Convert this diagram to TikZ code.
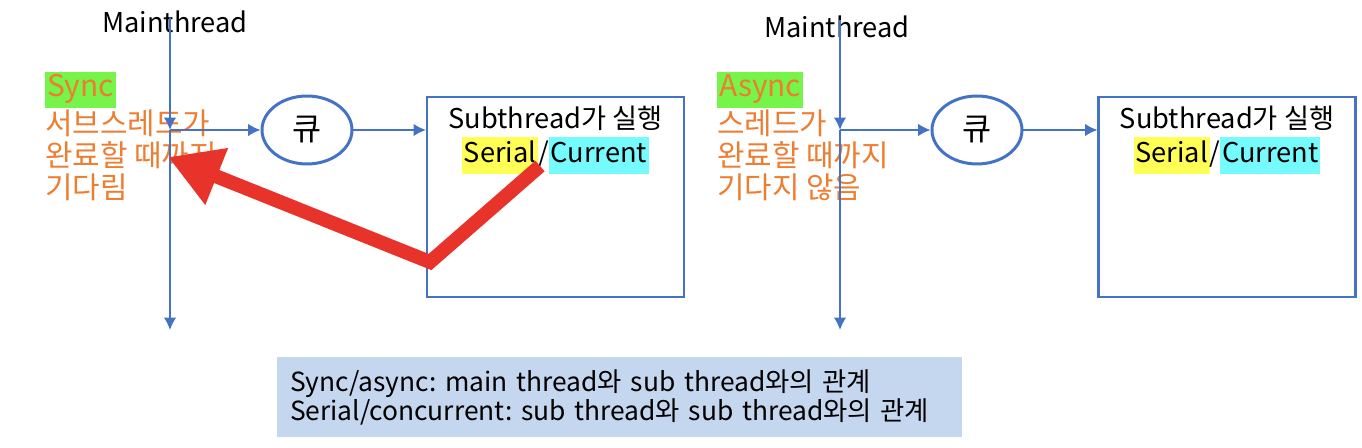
\documentclass[tikz,border=0pt]{standalone}
\usepackage{fontspec}
\setmainfont{Noto Sans CJK KR}
\usetikzlibrary{arrows.meta,positioning,shapes.geometric}
\definecolor{lineblue}{HTML}{4472C4}
\definecolor{noteorange}{HTML}{ED7D31}
\definecolor{hlgreen}{HTML}{77F44A}
\definecolor{hlyellow}{HTML}{FFFF55}
\definecolor{hlcyan}{HTML}{75FBFD}
\definecolor{backred}{HTML}{E8332A}
\definecolor{sumblue}{HTML}{C5D6EF}
\setlength{\fboxsep}{1pt}
\frenchspacing

\begin{document}
\begin{tikzpicture}[>=Latex,x=0.02cm,y=-0.02cm]
  \tikzstyle{flow}=[draw=lineblue,line width=0.8pt,-{Latex[length=7pt,width=7pt]}]
  \tikzstyle{queue}=[ellipse,draw=lineblue,line width=1.7pt,minimum width=1.8cm,minimum height=1.36cm,inner sep=0pt,font=\fontsize{18}{20}\selectfont]
  \tikzstyle{subbox}=[draw=lineblue,line width=1.2pt,minimum width=5.14cm,minimum height=4cm,inner sep=0pt]
  \tikzstyle{label}=[align=center,font=\fontsize{15.5}{19}\selectfont]
  \tikzstyle{note}=[anchor=north west,align=left,inner sep=0pt,text=noteorange,font=\fontsize{17}{18.2}\selectfont]
  \tikzstyle{back}=[draw=backred,line width=0.28cm,miter limit=10,-{Triangle[length=1.05cm,width=1.15cm]}]
  \useasboundingbox (0,0) rectangle (1362,448);

  % sync side
  \node[label] (main1) at (175,22) {Mainthread};
  \node[queue] (q1) at (307,130) {큐};
  \node[subbox] (sub1) at (555.5,197) {};
  \node[label,anchor=north] (title1) at ([yshift=-0.08cm]sub1.north) {Subthread가 실행\\\colorbox{hlyellow}{\strut Serial}/\colorbox{hlcyan}{\strut Current}};
  \node[note] (sync) at (45,72) {\colorbox{hlgreen}{\strut Sync}\\서브스레드가\\완료할 때까지\\기다림};
  \coordinate (m1top) at (170,18);
  \coordinate (m1in) at (170,130);
  \coordinate (m1end) at (170,330);
  \draw[flow] (m1top) -- (m1in);
  \draw[flow] (m1in) -- (m1end);
  \draw[flow] (m1in) -- (q1.west);
  \draw[flow] (q1.east) -- (q1.east -| sub1.west);
  \coordinate (r1from) at (540,166);
  \coordinate (r1bend) at (430,262);
  \coordinate (r1to) at (168,157);
  \draw[back] (r1from) -- (r1bend) -- (r1to);

  % async side
  \node[label] (main2) at (837,27) {Mainthread};
  \node[queue] (q2) at (977,130) {큐};
  \node[subbox] (sub2) at (1227,197) {};
  \node[label,anchor=north] (title2) at ([yshift=-0.08cm]sub2.north) {Subthread가 실행\\\colorbox{hlyellow}{\strut Serial}/\colorbox{hlcyan}{\strut Current}};
  \node[note] (async) at (717,72) {\colorbox{hlgreen}{\strut Async}\\스레드가\\완료할 때까지\\기다지 않음};
  \coordinate (m2top) at (840,20);
  \coordinate (m2in) at (840,130);
  \coordinate (m2end) at (840,330);
  \draw[flow] (m2top) -- (m2in);
  \draw[flow] (m2in) -- (m2end);
  \draw[flow] (m2in) -- (q2.west);
  \draw[flow] (q2.east) -- (q2.east -| sub2.west);

  \node[fill=sumblue,minimum width=13.7cm,minimum height=1.6cm,text width=13.18cm,inner xsep=0.26cm,align=left,font=\fontsize{15}{16.5}\selectfont] (summary) at (619.5,397) {Sync/async: main thread와 sub thread와의 관계\\Serial/concurrent: sub thread와 sub thread와의 관계};
\end{tikzpicture}
\end{document}
